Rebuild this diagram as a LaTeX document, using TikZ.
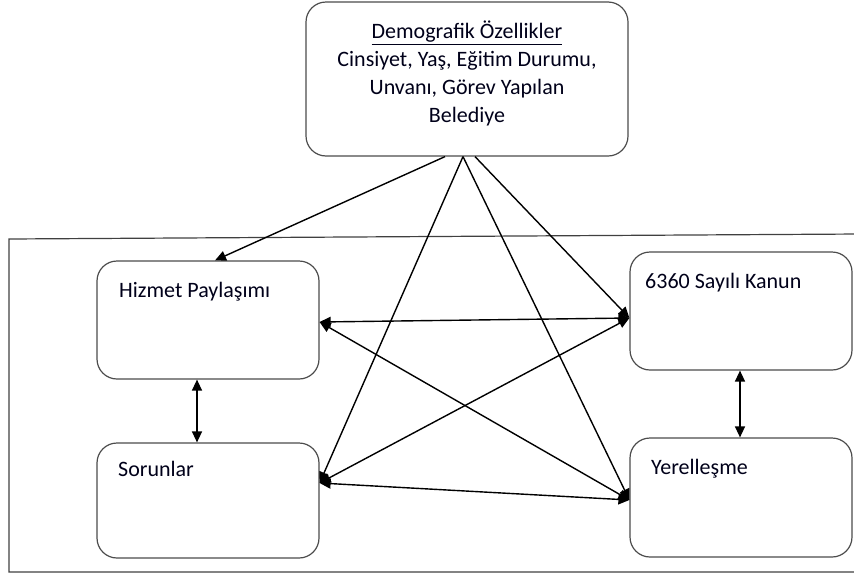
\documentclass[tikz,border=0pt]{standalone}
\usepackage{fontspec}
\setmainfont{Carlito}
\usetikzlibrary{arrows.meta}
\begin{document}
\begin{tikzpicture}[x=1pt,y=-1pt,
  box/.style={draw=black!70,line width=1.2pt,rounded corners=20pt,inner sep=0pt},
  txt/.style={font=\fontsize{22}{28}\selectfont,inner sep=0pt,text=black!90!blue},
  conn/.style={line width=1.4pt,-{Triangle[length=11pt,width=10pt]}},
  dconn/.style={line width=1.4pt,{Triangle[length=11pt,width=10pt]}-{Triangle[length=11pt,width=10pt]}}]
\useasboundingbox (0,0) rectangle (854,576);
% frame
\draw[black!75,line width=1.2pt] (860,234) -- (9,239) -- (9,572) -- (860,572);
% boxes
\node[box,minimum width=322pt,minimum height=154pt] (demo) at (467,79) {};
\node[box,minimum width=222pt,minimum height=118pt] (hiz) at (208,320) {};
\node[box,minimum width=222pt,minimum height=115pt] (sor) at (208,500.5) {};
\node[box,minimum width=222pt,minimum height=118pt] (kan) at (741,311) {};
\node[box,minimum width=222pt,minimum height=119pt] (yer) at (741,497.5) {};
% texts
\node[txt,align=center,anchor=north] (demotxt) at (467,21) {\underline{Demografik Özellikler}\\Cinsiyet, Yaş, Eğitim Durumu,\\Unvanı, Görev Yapılan\\Belediye};
\node[txt,anchor=base west] (hiztxt) at (119,297) {Hizmet Paylaşımı};
\node[txt,anchor=base west] (sortxt) at (118,476) {Sorunlar};
\node[txt,anchor=base west] (kantxt) at (645,288) {6360 Sayılı Kanun};
\node[txt,anchor=base west] (yertxt) at (651,474) {Yerelleşme};
% coordinates on borders
\coordinate (d1) at ([xshift=-22pt]demo.south);
\coordinate (d2) at ([xshift=-4pt]demo.south);
\coordinate (d3) at ([xshift=8pt]demo.south);
\coordinate (hE) at ([yshift=-2pt]hiz.east);
\coordinate (hN) at ([xshift=7pt]hiz.north);
\coordinate (sE) at ([yshift=17.5pt]sor.east);
\coordinate (kW) at ([yshift=-7pt]kan.west);
\coordinate (yW) at ([yshift=-2.5pt]yer.west);
% arrows from demographic box
\draw[conn] (d1) -- (hN);
\draw[conn] (d2) -- (sE);
\draw[conn] (d2) -- (yW);
\draw[conn] (d3) -- (kW);
% double arrows
\draw[dconn] (hE) -- (kW);
\draw[dconn] (hE) -- (yW);
\draw[dconn] (sE) -- (kW);
\draw[dconn] (sE) -- (yW);
\draw[dconn] ([xshift=-11pt]hiz.south) -- ([xshift=-11pt]sor.north);
\draw[dconn] ([xshift=-1pt]kan.south) -- ([xshift=-1pt]yer.north);
\end{tikzpicture}
\end{document}
